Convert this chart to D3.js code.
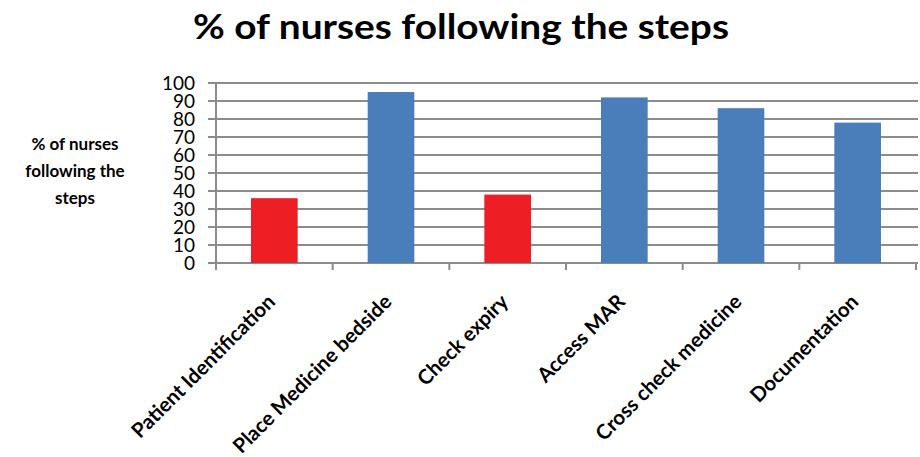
<!DOCTYPE html>
<html lang="en">
<head>
  <meta charset="UTF-8" />
  <title>% of nurses following the steps</title>
  <script src="https://d3js.org/d3.v7.min.js"></script>
  <style>
    body { margin: 0; background: #fff; }
    svg { display: block; font-family: Lato, "Open Sans", sans-serif; }
    .grid line { stroke: #8c8c8c; stroke-width: 2; }
  </style>
</head>
<body>
  <div id="chart"></div>
  <script>
    const width = 920, height = 457;

    // Dados
    const steps = ["Patient Identification", "Place Medicine bedside", "Check expiry",
                   "Access MAR", "Cross check medicine", "Documentation"];
    const percents = [36, 95, 38, 92, 86, 78];
    const barColors = ["#ed1f24", "#4a7ebb", "#ed1f24", "#4a7ebb", "#4a7ebb", "#4a7ebb"];
    const yTicks = [0, 10, 20, 30, 40, 50, 60, 70, 80, 90, 100];

    const plot = { left: 216, right: 916, top: 83, bottom: 263 };

    const svg = d3.select('#chart').append('svg')
      .attr('width', width)
      .attr('height', height);

    const x = d3.scaleBand().domain(steps).range([plot.left, plot.right]).paddingInner(0.6).paddingOuter(0.3);
    const y = d3.scaleLinear().domain([0, 100]).range([plot.bottom, plot.top]);

    // grades horizontais
    svg.append('g').attr('class', 'grid')
      .selectAll('line').data(yTicks).join('line')
      .attr('x1', plot.left - 8).attr('x2', plot.right + 2)
      .attr('y1', d => y(d)).attr('y2', d => y(d));

    // eixo y (linha + rótulos)
    svg.append('line')
      .attr('x1', plot.left).attr('x2', plot.left)
      .attr('y1', plot.top).attr('y2', plot.bottom)
      .attr('stroke', '#8c8c8c').attr('stroke-width', 2);

    svg.append('g').selectAll('text').data(yTicks).join('text')
      .attr('x', 195).attr('y', d => y(d))
      .attr('dy', '0.35em')
      .attr('text-anchor', 'end')
      .style('font-size', '19px')
      .attr('fill', '#000')
      .text(d => d);

    // barras
    svg.append('g').selectAll('rect').data(steps).join('rect')
      .attr('x', d => x(d))
      .attr('width', x.bandwidth())
      .attr('y', (d, i) => y(percents[i]))
      .attr('height', (d, i) => y(0) - y(percents[i]))
      .attr('fill', (d, i) => barColors[i]);

    // ticks do eixo x nas divisões das categorias
    const edges = d3.range(steps.length + 1).map(i => plot.left + i * (plot.right - plot.left) / steps.length);
    svg.append('g').selectAll('line').data(edges).join('line')
      .attr('x1', d => d).attr('x2', d => d)
      .attr('y1', plot.bottom).attr('y2', plot.bottom + 7)
      .attr('stroke', '#8c8c8c').attr('stroke-width', 2);

    // rótulos das categorias (rotacionados)
    svg.append('g').selectAll('text').data(steps).join('text')
      .attr('transform', d => `translate(${x(d) + x.bandwidth() / 2 + 2},${plot.bottom + 40}) rotate(-45)`)
      .attr('text-anchor', 'end')
      .style('font-size', '20.5px')
      .style('font-weight', 'bold')
      .text(d => d);

    // título
    svg.append('text')
      .attr('x', 461).attr('y', 39)
      .attr('text-anchor', 'middle')
      .attr('textLength', 536)
      .attr('lengthAdjust', 'spacingAndGlyphs')
      .style('font-size', '35px')
      .style('font-weight', 'bold')
      .text('% of nurses following the steps');

    // título do eixo y
    const yTitle = svg.append('text')
      .attr('text-anchor', 'middle')
      .style('font-size', '17px')
      .style('font-weight', 'bold');
    ['% of nurses', 'following the', 'steps'].forEach((line, i) => {
      yTitle.append('tspan').attr('x', 75).attr('y', 150 + i * 27).text(line);
    });
  </script>
</body>
</html>
